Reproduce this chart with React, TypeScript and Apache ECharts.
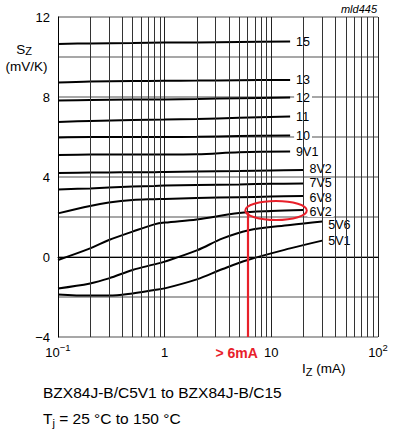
import React, { useEffect, useRef } from 'react';
import * as echarts from 'echarts';

const FONT = '"Liberation Sans", Arial, Helvetica, sans-serif';

// Zener current (mA) sample points per curve group
const currentHigh = [0.1, 0.2, 0.5, 1, 2, 5, 15];
const currentMid = [0.1, 0.2, 0.3, 0.5, 0.8, 1, 2, 5, 10, 20];
const currentLow = [0.1, 0.2, 0.3, 0.5, 0.8, 1, 2, 3.5, 6, 15, 30];

// Temperature coefficient S_Z (mV/K)
const s15 = [10.65, 10.68, 10.7, 10.72, 10.73, 10.75, 10.77];
const s13 = [8.72, 8.77, 8.8, 8.81, 8.82, 8.84, 8.85];
const s12 = [7.82, 7.85, 7.87, 7.88, 7.9, 7.94, 7.97];
const s11 = [6.75, 6.8, 6.85, 6.87, 6.9, 6.96, 7.02];
const s10 = [5.98, 6.0, 6.0, 6.0, 6.01, 6.05, 6.07];
const s9V1 = [5.1, 5.12, 5.13, 5.13, 5.14, 5.24, 5.27];
const s8V2 = [4.2, 4.22, 4.23, 4.24, 4.24, 4.25, 4.27, 4.3, 4.33, 4.35];
const s7V5 = [3.38, 3.43, 3.47, 3.52, 3.55, 3.57, 3.6, 3.63, 3.66, 3.68];
const s6V8 = [2.18, 2.55, 2.72, 2.85, 2.89, 2.9, 2.95, 2.99, 3.02, 3.05];
const s6V2 = [-0.15, 0.43, 0.85, 1.27, 1.63, 1.72, 1.88, 2.2, 2.3, 2.35];
const s5V6 = [-1.57, -1.32, -1.07, -0.65, -0.37, -0.23, 0.33, 0.93, 1.33, 1.6, 1.77];
const s5V1 = [-1.87, -1.93, -1.93, -1.82, -1.65, -1.57, -1.12, -0.6, -0.15, 0.43, 0.82];

const curves: [string, number[], number[], number[]][] = [
  ['15', currentHigh, s15, [0, 0]],
  ['13', currentHigh, s13, [0, 0]],
  ['12', currentHigh, s12, [0, 0]],
  ['11', currentHigh, s11, [0, 0]],
  ['10', currentHigh, s10, [0, 0]],
  ['9V1', currentHigh, s9V1, [0, 0]],
  ['8V2', currentMid, s8V2, [0, -1]],
  ['7V5', currentMid, s7V5, [0, 0]],
  ['6V8', currentMid, s6V8, [0, 1.5]],
  ['6V2', currentMid, s6V2, [0, 1.5]],
  ['5V6', currentLow, s5V6, [0, 3]],
  ['5V1', currentLow, s5V1, [0, 0.5]],
];

// axes
const xTickValues = [0.1, 1, 10, 100];
const xTickLabels = ['{b|10}{s|−1}', '{b|1}', '{b|10}', '{b|10}{s|2}'];
const yTickValues = [-4, 0, 4, 8, 12];
const yTickLabels = ['−4', '0', '4', '8', '12'];
const minorGridCurrents = [
  0.2, 0.3, 0.4, 0.5, 0.6, 0.7, 0.8, 0.9,
  2, 3, 4, 5, 6, 7, 8, 9,
  20, 30, 40, 50, 60, 70, 80, 90,
];

// annotation
const markCurrent = 6;
const markStartS = 2.24;
const ellipseCurrent = [5.7, 21.5];
const ellipseS = [1.85, 2.8];
const RED = '#e8202a';

export default function App() {
  const ref = useRef<HTMLDivElement>(null);
  useEffect(() => {
    const chart = echarts.init(ref.current!, null, { renderer: 'svg' });
    const series: any[] = curves.map(([name, xs, ys, off], idx) => {
      const s: any = {
        type: 'line',
        name,
        data: xs.map((x, i) => [x, ys[i]]),
        showSymbol: false,
        symbol: 'none',
        smooth: 0.35,
        silent: true,
        lineStyle: { color: '#000', width: 2 },
        endLabel: {
          show: true,
          formatter: name,
          color: '#000',
          fontSize: 12.5,
          fontFamily: FONT,
          backgroundColor: '#fff',
          padding: [0, 2, 0, 2],
          lineHeight: 11,
          distance: 4,
          offset: off,
        },
      };
      if (idx === 0) {
        s.markLine = {
          silent: true,
          symbol: ['none', 'none'],
          label: { show: false },
          lineStyle: { color: '#333', width: 1, type: 'solid' },
          data: minorGridCurrents.map((v) => ({ xAxis: v })),
        };
      }
      if (name === '6V2') {
        s.markLine = {
          silent: true,
          symbol: ['none', 'none'],
          label: { show: false },
          lineStyle: { color: RED, width: 2.2, type: 'solid' },
          data: [[{ coord: [markCurrent, markStartS] }, { coord: [markCurrent, -4] }]],
        };
      }
      return s;
    });

    chart.setOption({
      animation: false,
      backgroundColor: '#fff',
      textStyle: { fontFamily: FONT },
      grid: { left: 58, top: 17, width: 320, height: 320, outerBoundsMode: 'none' },
      xAxis: {
        type: 'log',
        logBase: 10,
        min: 0.1,
        max: 100,
        axisLine: { show: true, lineStyle: { color: '#000', width: 1 } },
        axisTick: { show: false },
        splitLine: { show: true, lineStyle: { color: '#222', width: 1 } },
        axisLabel: {
          margin: 5,
          formatter: (v: number) => {
            const i = xTickValues.findIndex((t) => Math.abs(Math.log10(t) - Math.log10(v)) < 1e-6);
            return i >= 0 ? xTickLabels[i] : '';
          },
          rich: {
            b: { fontSize: 13, fontFamily: FONT, color: '#000', lineHeight: 20, verticalAlign: 'middle' },
            s: { fontSize: 9.5, fontFamily: FONT, color: '#000', lineHeight: 10, verticalAlign: 'top' },
          },
        },
      },
      yAxis: {
        type: 'value',
        min: -4,
        max: 12,
        interval: 2,
        axisLine: { show: true, lineStyle: { color: '#000', width: 1 } },
        axisTick: { show: false },
        splitLine: { show: true, lineStyle: { color: '#8a8a8a', width: 1.6 } },
        axisLabel: {
          color: '#000',
          fontSize: 13,
          fontFamily: FONT,
          margin: 8,
          formatter: (v: number) => {
            const i = yTickValues.indexOf(v);
            return i >= 0 ? yTickLabels[i] : '';
          },
        },
      },
      series,
    });

    const p0 = chart.convertToPixel({ gridIndex: 0 }, [ellipseCurrent[0], ellipseS[0]]) as number[];
    const p1 = chart.convertToPixel({ gridIndex: 0 }, [ellipseCurrent[1], ellipseS[1]]) as number[];
    const pm = chart.convertToPixel({ gridIndex: 0 }, [markCurrent, -4]) as number[];

    chart.setOption({
      graphic: [
        {
          type: 'ellipse',
          silent: true,
          z: 100,
          shape: {
            cx: (p0[0] + p1[0]) / 2,
            cy: (p0[1] + p1[1]) / 2,
            rx: Math.abs(p1[0] - p0[0]) / 2,
            ry: Math.abs(p1[1] - p0[1]) / 2,
          },
          style: { fill: 'none', stroke: RED, lineWidth: 2 },
        },
        {
          type: 'text',
          x: pm[0] - 11,
          y: pm[1] + 16,
          style: {
            text: '> 6mA',
            fill: RED,
            font: `bold 14px ${FONT}`,
            textAlign: 'center',
            textVerticalAlign: 'middle',
          },
        },
        {
          type: 'text',
          x: 377,
          y: 9,
          style: {
            text: 'mld445',
            fill: '#000',
            font: `italic 11px ${FONT}`,
            textAlign: 'right',
            textVerticalAlign: 'middle',
          },
        },
        {
          type: 'text',
          x: 24,
          y: 49,
          style: {
            text: '{a|S}{b|Z}',
            textAlign: 'center',
            textVerticalAlign: 'middle',
            rich: {
              a: { fontSize: 13.5, fontFamily: FONT, fill: '#000', lineHeight: 15, verticalAlign: 'middle' },
              b: { fontSize: 11, fontFamily: FONT, fill: '#000', lineHeight: 10, verticalAlign: 'bottom' },
            },
          },
        },
        {
          type: 'text',
          x: 26.5,
          y: 66,
          style: {
            text: '(mV/K)',
            fill: '#000',
            font: `13.5px ${FONT}`,
            textAlign: 'center',
            textVerticalAlign: 'middle',
          },
        },
        {
          type: 'text',
          x: 302,
          y: 368,
          style: {
            text: '{a|I}{b|Z}{a| (mA)}',
            textAlign: 'left',
            textVerticalAlign: 'middle',
            rich: {
              a: { fontSize: 13.5, fontFamily: FONT, fill: '#000', lineHeight: 18, verticalAlign: 'middle' },
              b: { fontSize: 11, fontFamily: FONT, fill: '#000', lineHeight: 12, verticalAlign: 'bottom' },
            },
          },
        },
        {
          type: 'text',
          x: 43,
          y: 392,
          style: {
            text: 'BZX84J-B/C5V1 to BZX84J-B/C15',
            fill: '#000',
            font: `15.5px ${FONT}`,
            textAlign: 'left',
            textVerticalAlign: 'middle',
          },
        },
        {
          type: 'text',
          x: 43,
          y: 418,
          style: {
            text: '{a|T}{b|j}{a| = 25 °C to 150 °C}',
            textAlign: 'left',
            textVerticalAlign: 'middle',
            rich: {
              a: { fontSize: 15.5, fontFamily: FONT, fill: '#000', lineHeight: 20, verticalAlign: 'middle' },
              b: { fontSize: 11, fontFamily: FONT, fill: '#000', lineHeight: 13, verticalAlign: 'bottom' },
            },
          },
        },
      ],
    });

    return () => chart.dispose();
  }, []);
  return (
    <div
      ref={ref}
      style={{ position: 'fixed', left: 0, top: 0, width: 394, height: 431, background: '#fff' }}
    />
  );
}
